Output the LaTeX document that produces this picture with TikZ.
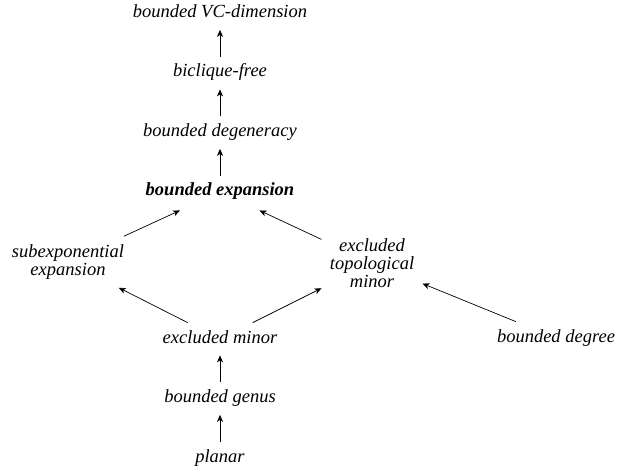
\documentclass[tikz,border=0pt]{standalone}
\usepackage{fontspec}
\setmainfont{Liberation Serif}
\usetikzlibrary{arrows.meta}

\begin{document}
\begin{tikzpicture}[->,>={Stealth[length=7pt,width=6pt,inset=2pt]},x=1pt,y=-1pt,
                    line width=0.7pt,node distance=59.5pt]
  \tikzstyle{prop}=[font=\fontsize{18.5}{18}\selectfont\itshape,inner sep=8pt,
                    text height=12pt,text depth=4pt]
  \tikzstyle{propmulti}=[font=\fontsize{18.5}{18}\selectfont\itshape,inner sep=8pt,
                    align=center]

  \useasboundingbox (0,0) rectangle (618,470);

  \node[prop] (planar) at (220,458)   {planar};
  \node[prop] (genus) [above of=planar] {bounded genus};
  \node[prop] (minor) [above of=genus]  {excluded minor};
  \node[propmulti] (subexp) at (68,262)   {subexponential\\expansion};
  \node[propmulti] (topminor) at (372,263) {excluded\\topological\\minor};
  \node[prop] (degree) at (556,338)   {bounded degree};
  \node[prop,font=\fontsize{18.5}{18}\selectfont\bfseries\itshape] (bexp) at (220,192) {bounded expansion};
  \node[prop] (degen) [above of=bexp]  {bounded degeneracy};
  \node[prop] (biclique) [above of=degen] {biclique-free};
  \node[prop] (vcdim) [above of=biclique] {bounded VC-dimension};

  \draw (planar) -- (genus);
  \draw (genus) -- (minor);
  \draw (minor) -- (subexp);
  \draw (minor) -- (topminor);
  \draw (degree) -- (topminor);
  \draw[shorten >=5pt] (subexp) -- (bexp);
  \draw[shorten >=5pt] (topminor) -- (bexp);
  \draw (bexp) -- (degen);
  \draw (degen) -- (biclique);
  \draw (biclique) -- (vcdim);

\end{tikzpicture}
\end{document}
